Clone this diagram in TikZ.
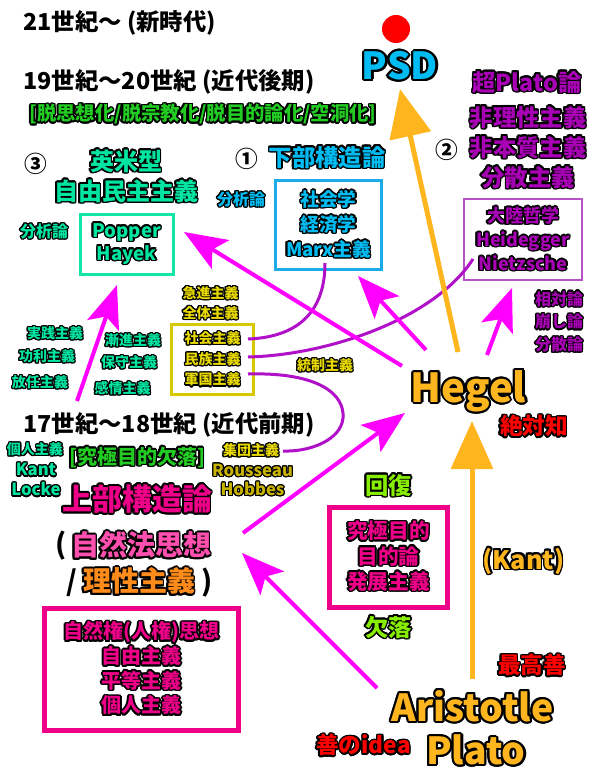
\documentclass[tikz,border=0pt]{standalone}
\usepackage{fontspec}
\setmainfont{Noto Sans CJK JP}
\usepackage{contour}
\usetikzlibrary{arrows.meta}

\contournumber{16}
\contourlength{1.2pt}
\newcommand{\olt}[1]{\contour{black}{#1}}

\definecolor{psdcyan}{HTML}{00BCF2}
\definecolor{boxcyan}{HTML}{1AACE8}
\definecolor{ustext}{HTML}{00E6A2}
\definecolor{usbox}{HTML}{10E6A8}
\definecolor{contpurple}{HTML}{A800B4}
\definecolor{contbox}{HTML}{B850C8}
\definecolor{curvepurple}{HTML}{B010C8}
\definecolor{arrowmag}{HTML}{FF00FF}
\definecolor{upmag}{HTML}{EE0088}
\definecolor{natpink}{HTML}{FF50B0}
\definecolor{reasonorg}{HTML}{FF8C1A}
\definecolor{hegelorg}{HTML}{FFB61E}
\definecolor{goodred}{HTML}{FF0000}
\definecolor{datgreen}{HTML}{22CC22}
\definecolor{limegr}{HTML}{88EE00}
\definecolor{ylwtext}{HTML}{E8DA00}
\definecolor{ylwbox}{HTML}{D8C800}
\definecolor{olivetext}{HTML}{C8B400}

\tikzset{every picture/.style={line width=0.75pt},
	fsz/.style n args={3}{font={\bfseries\fontsize{#1}{#2}\selectfont\contourlength{#3}}},
	sm/.style={fsz={10.5}{13}{0.9pt}},
	title/.style={anchor=west, inner sep=0.75pt, fsz={17.5}{20}{1.2pt}},
	magarr/.style={draw=arrowmag, line width=3pt, -{Stealth[length=32pt,width=25pt,inset=7pt]}},
	orgarr/.style={draw=hegelorg, line width=3.75pt, -{Triangle[length=36pt,width=31pt]}},
	curv/.style={draw=curvepurple, line width=2.25pt}}

\begin{document}
\begin{tikzpicture}[x=0.75pt,y=0.75pt,yscale=-1,xscale=1]
		\useasboundingbox (0,0) rectangle (600,780);
		
		% Text Node
		\draw (22,23) node [title] (c21) {21世紀～ (新時代)};
		% Text Node
		\draw (22,82) node [title] (c19) {19世紀～20世紀 (近代後期)};
		% Text Node
		\draw (28,115) node [title, text=datgreen, fsz={14.5}{17}{1.2pt}] (dat) {\olt{[脱思想化/脱宗教化/脱目的論化/空洞化]}};
		% Text Node
		\draw (22,425) node [title] (c17) {17世紀～18世紀 (近代前期)};
		
		%Shape: Circle
		\node [circle, fill=goodred, minimum size=21pt, inner sep=0pt] (dot) at (396,29) {};
		% Text Node
		\draw (400,67) node [text=psdcyan, fsz={28}{30}{1.6pt}] (psd) {\olt{PSD}};
		
		% Text Node
		\draw (527,83) node [text=contpurple, fsz={17.5}{20}{1.2pt}] (chopl) {\olt{超Plato論}};
		% Text Node
		\draw (528,148) node [text=contpurple, fsz={17.5}{22.5}{1.2pt}, align=center] (hiri) {\olt{非理性主義}\\\olt{非本質主義}\\\olt{分散主義}};
		% Text Node
		\draw (447,150) node [fsz={17}{20}{1pt}] (n2) {②};
		% Text Node
		\draw (247,159) node [fsz={17}{20}{1pt}] (n1) {①};
		% Text Node
		\draw (327,158) node [text=psdcyan, fsz={17.5}{20}{1.2pt}] (kabu) {\olt{下部構造論}};
		% Text Node
		\draw (36,164) node [fsz={17}{20}{1pt}] (n3) {③};
		% Text Node
		\draw (126,177) node [text=ustext, fsz={18}{22.5}{1.2pt}, align=center] (eibei) {\olt{英米型}\\\olt{自由民主主義}};
		% Text Node
		\draw (241,200) node [text=psdcyan, fsz={12}{14}{1pt}] (bun1) {\olt{分析論}};
		% Text Node
		\draw (44,232) node [text=ustext, fsz={12}{14}{1pt}] (bun2) {\olt{分析論}};
		
		%Shape: Rectangle
		\node [draw=usbox, line width=2.25pt, minimum width=69.75pt, minimum height=44.25pt, inner sep=1pt, align=center, text=ustext, fsz={14}{17}{1.1pt}] (popper) at (126.5,244.5) {\olt{Popper}\\\olt{Hayek}};
		%Shape: Rectangle
		\node [draw=boxcyan, line width=2.25pt, minimum width=80pt, minimum height=66pt, inner sep=1pt, align=center, text=psdcyan, fsz={14}{18.75}{1.1pt}] (marx) at (328.5,225) {\olt{社会学}\\\olt{経済学}\\\olt{Marx主義}};
		%Shape: Rectangle
		\node [draw=contbox, line width=1.9pt, minimum width=88.5pt, minimum height=61pt, inner sep=1pt, align=center, text=contpurple, fsz={13.5}{18}{1.1pt}] (tairiku) at (523,239.5) {\olt{大陸哲学}\\\olt{Heidegger}\\\olt{Nietzsche}};
		%Shape: Rectangle
		\node [draw=ylwbox, line width=2.25pt, minimum width=61pt, minimum height=52pt, inner sep=1pt, align=center, text=ylwtext, fsz={10.5}{15.5}{0.9pt}] (ylw) at (212.5,359.5) {\olt{社会主義}\\\olt{民族主義}\\\olt{軍国主義}};
		
		% Text Node
		\draw (210.5,303.5) node [text=ylwtext, fsz={10.5}{15}{0.9pt}, align=center] (kyu) {\olt{急進主義}\\\olt{全体主義}};
		% Text Node
		\draw (325,366) node [text=ylwtext, sm] (tosei) {\olt{統制主義}};
		% Text Node
		\draw (55,334) node [text=ustext, sm] (jis) {\olt{実践主義}};
		% Text Node
		\draw (47,357) node [text=ustext, sm] (kor) {\olt{功利主義}};
		% Text Node
		\draw (40,383) node [text=ustext, sm] (hon) {\olt{放任主義}};
		% Text Node
		\draw (133,341) node [text=ustext, sm] (zen) {\olt{漸進主義}};
		% Text Node
		\draw (129,363) node [text=ustext, sm] (hos) {\olt{保守主義}};
		% Text Node
		\draw (122.5,389) node [text=ustext, sm] (kan) {\olt{感情主義}};
		% Text Node
		\draw (559,322.5) node [text=contpurple, fsz={12}{17}{1pt}, align=center] (sotai) {\olt{相対論}\\\olt{崩し論}\\\olt{分散論}};
		
		% Text Node
		\draw (468.5,392) node [text=hegelorg, fsz={30}{32}{1.6pt}] (hegel) {\olt{Hegel}};
		% Text Node
		\draw (534,427) node [text=goodred, fsz={17}{20}{1.2pt}] (zettai) {\olt{絶対知}};
		
		% Text Node
		\draw (35,450) node [text=ustext, sm] (kojin) {\olt{個人主義}};
		% Text Node
		\draw (36,480.5) node [text=ustext, fsz={12.5}{15}{1pt}, align=center] (kant) {\olt{Kant}\\\olt{Locke}};
		% Text Node
		\draw (137,458) node [text=datgreen, fsz={15}{17}{1.2pt}] (kek) {\olt{[究極目的欠落]}};
		% Text Node
		\draw (251,451) node [text=ylwtext, sm] (shudan) {\olt{集団主義}};
		% Text Node
		\draw (252.5,480.5) node [text=olivetext, fsz={12.5}{14.5}{0.8pt}, align=center] (rous) {\olt{Rousseau}\\\olt{Hobbes}};
		% Text Node
		\draw (137,500) node [text=upmag, fsz={22.5}{25}{1.4pt}] (jobu) {\olt{上部構造論}};
		% Text Node
		\draw (61,546) node [fsz={21}{24}{1pt}] (lpar) {(};
		% Text Node
		\draw (141,546) node [text=natpink, fsz={21}{24}{1.4pt}] (shizen) {\olt{自然法思想}};
		% Text Node
		\draw (72,583) node [fsz={21}{24}{1pt}] (slash) {/};
		% Text Node
		\draw (139,582) node [text=reasonorg, fsz={21}{24}{1.4pt}] (risei) {\olt{理性主義}};
		% Text Node
		\draw (207,583) node [fsz={21}{24}{1pt}] (rpar) {)};
		
		%Shape: Rectangle
		\node [draw=upmag, line width=3.75pt, minimum width=146pt, minimum height=91.5pt, inner sep=1pt, align=center, text=upmag, fsz={15}{18.5}{1.2pt}] (shizenken) at (141.5,669) {\olt{自然権(人権)思想}\\\olt{自由主義}\\\olt{平等主義}\\\olt{個人主義}};
		%Shape: Rectangle
		\node [draw=upmag, line width=3.75pt, minimum width=88pt, minimum height=75pt, inner sep=1pt, align=center, text=upmag, fsz={15.5}{19}{1.2pt}] (mokuteki) at (388.5,557) {\olt{究極目的}\\\olt{目的論}\\\olt{発展主義}};
		
		% Text Node
		\draw (388.5,486) node [text=limegr, fsz={17.5}{20}{1.2pt}] (kaifuku) {\olt{回復}};
		% Text Node
		\draw (388.5,628) node [text=limegr, fsz={17.5}{20}{1.2pt}] (ketsu) {\olt{欠落}};
		% Text Node
		\draw (523.5,562) node [text=hegelorg, fsz={19}{22}{1.3pt}] (kantb) {\olt{(Kant)}};
		% Text Node
		\draw (532,666) node [text=goodred, fsz={17}{20}{1.2pt}] (saiko) {\olt{最高善}};
		% Text Node
		\draw (472.5,707) node [text=hegelorg, fsz={28}{33}{1.6pt}] (arist) {\olt{Aristotle}};
		% Text Node
		\draw (476,751) node [text=hegelorg, fsz={28}{33}{1.6pt}] (plato) {\olt{Plato}};
		% Text Node
		\draw (363.5,746) node [text=goodred, fsz={17}{20}{1.2pt}] (zen-idea) {\olt{善のidea}};
		
		% Connector ends
		\coordinate (hg-a) at (402,366);
		\coordinate (pop-a) at (184,232);
		\coordinate (hg-b) at (426,350);
		\coordinate (marx-a) at (358,276);
		\coordinate (hg-c) at (487,355);
		\coordinate (tai-a) at (512,288);
		\coordinate (nat-a) at (243,533);
		\coordinate (hg-d) at (405,413);
		\coordinate (ar-a) at (377,688);
		\coordinate (nat-b) at (242,553);
		\coordinate (c17-a) at (77,401);
		\coordinate (pop-b) at (117,285);
		\coordinate (hg-e) at (458,352);
		\coordinate (psd-a) at (400,89);
		\coordinate (ar-b) at (472,679);
		\coordinate (hg-f) at (472,421);
		\coordinate (ylw-a) at (248,339);
		\coordinate (ylw-b) at (248,357);
		\coordinate (ylw-c) at (248,374);
		\coordinate (marx-b) at (325,263);
		\coordinate (tai-b) at (473,259);
		\coordinate (shu-a) at (283,451);
		
		%Curve Lines
		\draw [curv] (ylw-a) .. controls (300,337) and (325,310) .. (marx-b);
		\draw [curv] (ylw-b) .. controls (330,355) and (435,318) .. (tai-b);
		\draw [curv] (ylw-c) .. controls (320,372) and (345,395) .. (343,418) .. controls (341,440) and (310,452) .. (shu-a);
		
		%Straight Lines
		\draw [orgarr] (hg-e) -- (psd-a);
		\draw [orgarr] (ar-b) -- (hg-f);
		\draw [magarr] (hg-a) -- (pop-a);
		\draw [magarr] (hg-b) -- (marx-a);
		\draw [magarr] (hg-c) -- (tai-a);
		\draw [magarr] (nat-a) -- (hg-d);
		\draw [magarr] (ar-a) -- (nat-b);
		\draw [magarr] (c17-a) -- (pop-b);
		
\end{tikzpicture}
\end{document}
